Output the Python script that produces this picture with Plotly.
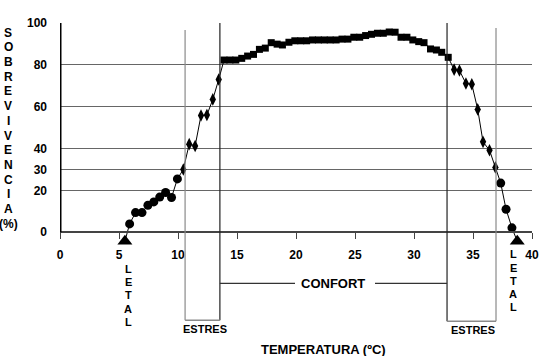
import plotly.graph_objects as go

# ---- data (temperature ºC, survival %) ----
letal_temp = [5.5, 38.75]
letal_surv = [-4.3, -4.3]

cold_circ_temp = [5.9, 6.4, 6.95, 7.45, 7.95, 8.45, 8.95, 9.45, 9.95]
cold_circ_surv = [4.0, 9.4, 9.4, 12.9, 14.5, 16.8, 19.0, 16.6, 25.5]

cold_diam_temp = [10.45, 10.95, 11.45, 11.95, 12.45, 12.95, 13.45]
cold_diam_surv = [30.0, 42.1, 41.2, 55.8, 56.0, 63.5, 73.0]

comfort_temp = [13.9, 14.4, 14.9, 15.4, 15.9, 16.4, 16.9, 17.4, 17.9, 18.4,
                18.85, 19.4, 19.9, 20.4, 20.9, 21.4, 21.9, 22.4, 22.9, 23.4,
                23.9, 24.4, 24.9, 25.4, 25.9, 26.4, 26.9, 27.4, 27.9, 28.4,
                28.9, 29.4, 29.9, 30.4, 30.85, 31.4, 31.9, 32.35, 32.9]
comfort_surv = [82.3, 82.3, 82.3, 83.1, 84.2, 85.0, 87.4, 88.0, 90.6, 89.9,
                89.5, 90.8, 91.5, 91.5, 91.5, 91.9, 91.9, 91.9, 91.9, 91.9,
                92.3, 92.3, 93.2, 93.2, 94.0, 94.6, 95.1, 95.1, 95.7, 95.6,
                93.2, 93.2, 91.9, 91.1, 90.6, 87.6, 87.1, 86.0, 83.6]

hot_diam_temp = [33.4, 33.85, 34.4, 34.9, 35.4, 35.85, 36.4, 36.9]
hot_diam_surv = [77.7, 77.3, 71.1, 70.7, 58.7, 43.2, 39.2, 31.0]

hot_circ_temp = [37.35, 37.8, 38.3]
hot_circ_surv = [23.5, 11.0, 2.1]

# zone limits (ºC)
estres_frio = [10.6, 13.55]
estres_calor = [32.8, 36.95]

x_ticks = [0, 5, 10, 15, 20, 25, 30, 35, 40]
y_ticks = [0, 20, 30, 40, 60, 80, 100]

y_title = ["S", "O", "B", "R", "E", "V", "I", "V", "E", "N", "C", "I", "A", "(%)"]
letal_word = ["L", "E", "T", "A", "L"]

# ---- figure geometry ----
W, H = 541, 356
Y_MIN, Y_MAX = -8, 100
ML, MR, MT = 60, 9, 23
PW = W - ML - MR
Y0_PX = 232                      # pixel row of survival 0
PX_PER_UNIT = (Y0_PX - MT) / Y_MAX
PH = (Y_MAX - Y_MIN) * PX_PER_UNIT
MB = H - MT - PH


def px_x(px):  # pixel x -> paper
    return (px - ML) / PW


def px_y(py):  # pixel y -> paper
    return (MT + PH - py) / PH


def px_t(px):  # pixel x -> temperature
    return (px - ML) / PW * 40


FONT = "Arial, Liberation Sans, sans-serif"

fig = go.Figure()

line_temp = ([letal_temp[0]] + cold_circ_temp + cold_diam_temp + comfort_temp +
             hot_diam_temp + hot_circ_temp + [letal_temp[1]])
line_surv = ([letal_surv[0]] + cold_circ_surv + cold_diam_surv + comfort_surv +
             hot_diam_surv + hot_circ_surv + [letal_surv[1]])

fig.add_trace(go.Scatter(x=line_temp, y=line_surv, mode="lines",
                         line=dict(color="black", width=1), cliponaxis=False,
                         hoverinfo="skip"))

groups = [
    (cold_circ_temp + hot_circ_temp, cold_circ_surv + hot_circ_surv, "circle", 9),
    (cold_diam_temp + hot_diam_temp, cold_diam_surv + hot_diam_surv, "diamond-tall", 9),
    (comfort_temp, comfort_surv, "square", 7),
    (letal_temp, letal_surv, "triangle-up", 13),
]
for xs, ys, sym, sz in groups:
    fig.add_trace(go.Scatter(x=xs, y=ys, mode="markers", cliponaxis=False,
                             marker=dict(symbol=sym, size=sz, color="black",
                                         line=dict(width=0))))

shapes = []
gray = "#8a8a8a"
dark = "#222222"
# thick y-axis line from 0 to 100
shapes.append(dict(type="line", xref="x", yref="y", x0=0, x1=0, y0=0, y1=Y_MAX,
                   line=dict(color="black", width=3)))
# left stress bracket
shapes.append(dict(type="line", xref="x", yref="paper", x0=estres_frio[0], x1=estres_frio[0],
                   y0=px_y(30), y1=px_y(320), line=dict(color=gray, width=1.2)))
shapes.append(dict(type="line", xref="x", yref="paper", x0=estres_frio[1], x1=estres_frio[1],
                   y0=1, y1=px_y(320), line=dict(color=dark, width=1.2)))
shapes.append(dict(type="line", xref="x", yref="paper", x0=estres_frio[0], x1=estres_frio[1],
                   y0=px_y(320), y1=px_y(320), line=dict(color=gray, width=1.5)))
# right stress bracket
shapes.append(dict(type="line", xref="x", yref="paper", x0=estres_calor[0], x1=estres_calor[0],
                   y0=1, y1=px_y(321), line=dict(color=dark, width=1.2)))
shapes.append(dict(type="line", xref="x", yref="paper", x0=estres_calor[1], x1=estres_calor[1],
                   y0=px_y(28), y1=px_y(321), line=dict(color=gray, width=1.2)))
shapes.append(dict(type="line", xref="x", yref="paper", x0=estres_calor[0], x1=estres_calor[1],
                   y0=px_y(321), y1=px_y(321), line=dict(color=gray, width=1.5)))
# confort lines
shapes.append(dict(type="line", xref="x", yref="paper", x0=estres_frio[1], x1=px_t(295),
                   y0=px_y(283), y1=px_y(283), line=dict(color="#333", width=1.2)))
shapes.append(dict(type="line", xref="x", yref="paper", x0=px_t(375), x1=estres_calor[0],
                   y0=px_y(283), y1=px_y(283), line=dict(color="#333", width=1.2)))

ann = []


def text(s, x, y, size):
    ann.append(dict(text=s, x=px_x(x), y=px_y(y), xref="paper", yref="paper",
                    showarrow=False, xanchor="center", yanchor="middle",
                    font=dict(family=FONT, size=size, color="black", weight="bold")))


for i, ch in enumerate(y_title):
    text(ch, 8, 32.5 + i * 14.7, 12)
for i, ch in enumerate(letal_word):
    text(ch, 128, 268.3 + i * 13.35, 11)
    text(ch, 513.3, 254 + i * 13.2, 11)
text("ESTRES", 204.7, 329, 11)
text("ESTRES", 473.3, 330, 11)
text("CONFORT", 333, 283.5, 13)
text("TEMPERATURA (ºC)", 323, 349.5, 13)

fig.update_layout(
    width=W, height=H, autosize=False,
    margin=dict(l=ML, r=MR, t=MT, b=MB, pad=0, autoexpand=False),
    paper_bgcolor="white", plot_bgcolor="white", showlegend=False,
    shapes=shapes, annotations=ann,
    xaxis=dict(range=[0, 40], tickvals=x_ticks, showgrid=False, zeroline=False,
               anchor="free", position=(0 - Y_MIN) / (Y_MAX - Y_MIN),
               showline=True, linecolor="#444", linewidth=1.5, automargin=False,
               ticks="outside", ticklen=6, tickcolor="#444", tickwidth=1,
               tickfont=dict(family=FONT, size=12, color="black", weight="bold"),
               ticklabelstandoff=6),
    yaxis=dict(range=[Y_MIN, Y_MAX], tickvals=y_ticks, showgrid=True, gridcolor="#666",
               gridwidth=1.2, zeroline=False, showline=False, automargin=False,
               ticks="", ticklabelstandoff=12,
               tickfont=dict(family=FONT, size=12, color="black", weight="bold")),
)

fig.write_html("out.html", config={"displayModeBar": False},
               post_script="document.body.style.margin='0';")
